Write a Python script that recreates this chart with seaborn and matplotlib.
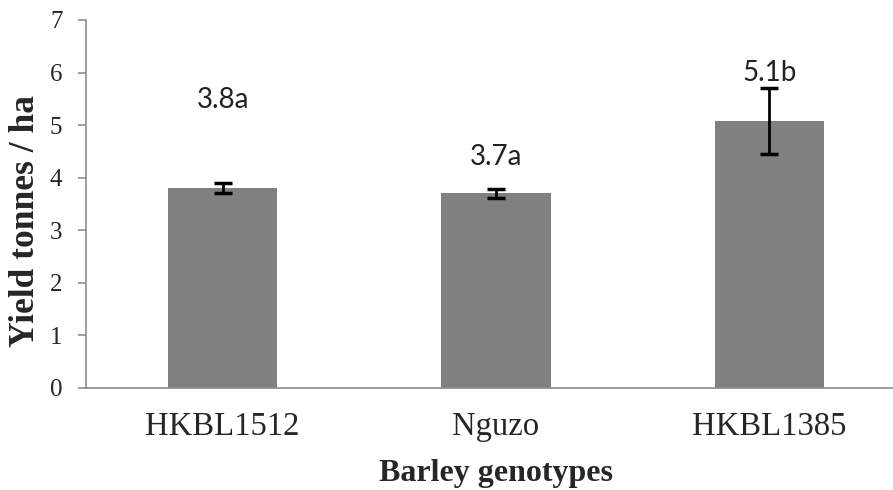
import matplotlib
matplotlib.use("Agg")
import matplotlib.pyplot as plt
import seaborn as sns
import pandas as pd

# ── Data ──
genotypes = ['HKBL1512', 'Nguzo', 'HKBL1385']
yield_mean = [3.80, 3.70, 5.08]
yield_err = [0.10, 0.09, 0.62]
labels = ['3.8a', '3.7a', '5.1b']
label_y = [5.48, 4.39, 6.00]

df = pd.DataFrame({'Genotype': genotypes, 'Yield': yield_mean})

# ── Style ──
sns.set_style('white')
plt.rcParams['font.family'] = ['Liberation Serif', 'DejaVu Serif']
spine_col = '#8c8c8c'

fig = plt.figure(figsize=(8.93, 4.90), dpi=100)
# right edge runs past the figure, as in the original (clipped axis line)
ax = fig.add_axes([86 / 893, 1 - 388 / 490, (906 - 86) / 893, (388 - 20) / 490])

sns.barplot(data=df, x='Genotype', y='Yield', order=genotypes,
            color='#808080', saturation=1, width=0.4, errorbar=None, ax=ax)
for p in ax.patches:
    p.set_edgecolor('none')

ax.errorbar(range(len(genotypes)), yield_mean, yerr=yield_err, fmt='none',
            ecolor='black', elinewidth=2, capsize=6.5, capthick=2.5)

for i, (txt, yy) in enumerate(zip(labels, label_y)):
    ax.text(i, yy, txt, ha='center', va='center', fontsize=20,
            family=['Lato', 'DejaVu Sans'], color='#222222')

ax.set_ylim(0, 7)
ax.set_xlim(-0.5, 2.5)
ax.set_yticks(range(0, 8))
ax.set_xticks(range(len(genotypes)))
ax.set_xticklabels(genotypes)
ax.set_xticks([-0.5, 0.5, 1.5, 2.5], minor=True)
ax.tick_params(axis='x', which='major', length=0, labelsize=23.5, pad=17)
ax.tick_params(axis='x', which='minor', length=6, width=1.2, color=spine_col, direction='out')
ax.tick_params(axis='y', length=6, width=1.2, color=spine_col, direction='out',
               labelsize=18, pad=11, left=True)

ax.set_xlabel('Barley genotypes', fontsize=23, fontweight='bold', labelpad=12)
ax.set_ylabel('Yield tonnes / ha', fontsize=25.5, fontweight='bold')
ax.yaxis.set_label_coords(-0.054, 0.454)

sns.despine(ax=ax)
for s in ['left', 'bottom']:
    ax.spines[s].set_color(spine_col)
    ax.spines[s].set_linewidth(1.2)

fig.savefig('out.png', dpi=100)
plt.close(fig)
